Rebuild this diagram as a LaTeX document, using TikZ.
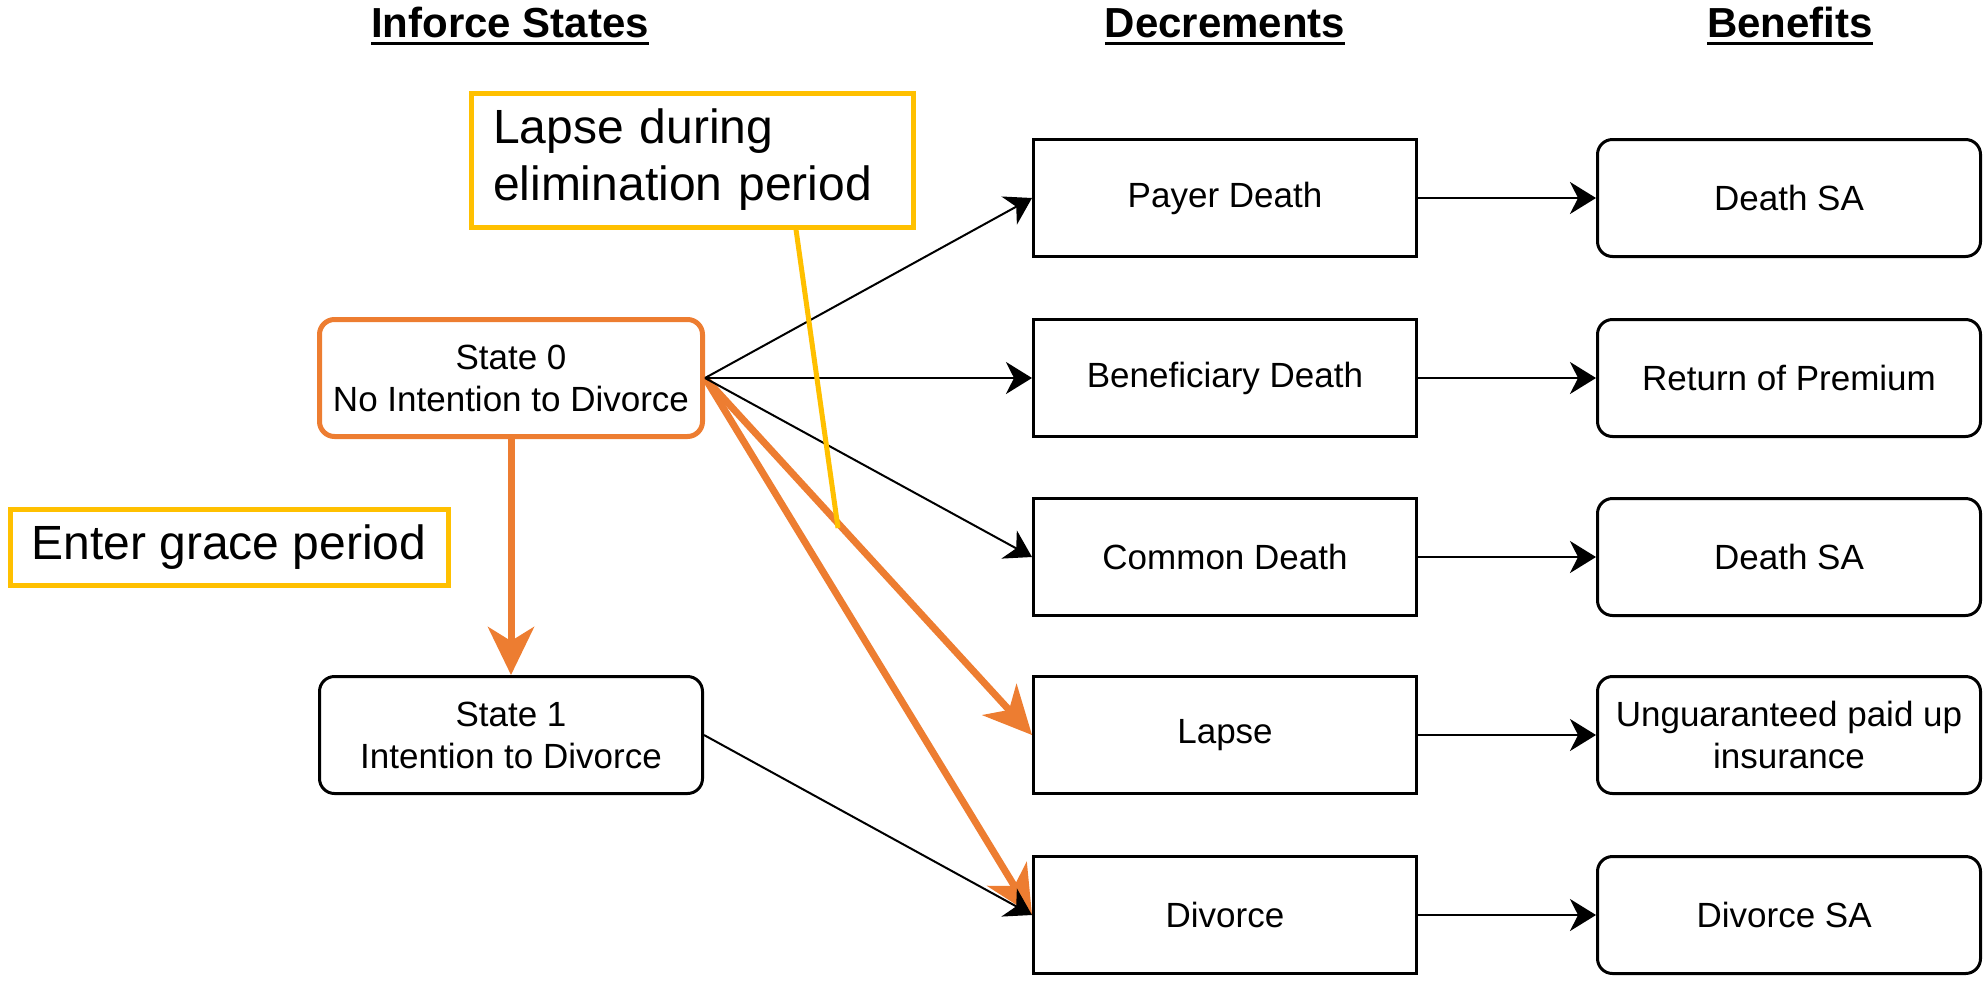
\documentclass[tikz,border=0pt]{standalone}
\usepackage{fontspec}
\setmainfont{Liberation Sans}
\usetikzlibrary{arrows.meta}
\definecolor{stateorange}{HTML}{ED7D31}
\definecolor{noteyellow}{HTML}{FFC000}
\newcommand{\ulhead}[1]{\setbox0\hbox{#1}\rlap{\rule[-4pt]{\wd0}{1.5pt}}\box0}

\begin{document}
\begin{tikzpicture}[x=0.5pt,y=-0.5pt,
  box/.style={draw,line width=1.5pt,minimum width=191.5pt,minimum height=58.5pt,
    inner sep=0pt,align=center,font=\fontsize{17.5}{21}\selectfont},
  rbox/.style={box,rounded corners=7.5pt},
  sbox/.style={rbox,draw=stateorange,line width=2.5pt},
  note/.style={draw=noteyellow,line width=2.5pt,inner sep=0pt,
    font=\fontsize{24}{28.5}\selectfont},
  head/.style={anchor=base,font=\fontsize{21}{25}\selectfont\bfseries},
  arr/.style={-{Stealth[length=13pt,width=16pt,inset=4pt]},line width=1pt},
  oarr/.style={-{Stealth[length=24pt,width=23pt,inset=7pt]},line width=3.5pt,draw=stateorange}
]
\useasboundingbox (0,0) rectangle (1985,980);

% column heads
\node[head] (hstates) at (510,37) {\ulhead{Inforce States}};
\node[head] (hdecr) at (1225,37) {\ulhead{Decrements}};
\node[head] (hbenef) at (1790,37) {\ulhead{Benefits}};

% states
\node[sbox] (s0) at (511,378) {State 0\\No Intention to Divorce};
\node[rbox] (s1) at (511,735) {State 1\\Intention to Divorce};

% decrements and benefits
\foreach \n/\y/\d/\b in{
pay/198/{Payer Death}/{Death SA},
ben/378/{Beneficiary Death}/{Return of Premium},
com/557/{Common Death}/{Death SA},
lap/735/{Lapse}/{Unguaranteed paid up\\insurance},
div/915/{Divorce}/{Divorce SA}
}
{
        \node[box] (\n) at (1225,\y) {\d};
        \node[rbox] (b\n) at (1789,\y) {\b};
        \draw[arr] (\n) -- (b\n);
    }

% notes
\node[note,text width=199pt,inner xsep=11pt,align=left,minimum height=67pt]
  (lapnote) at (692,160) {Lapse during\\elimination period};
\node[note,minimum width=219pt,minimum height=38pt] (gracenote) at (229,547) {Enter grace period};
\coordinate (lappoint) at (838,528);

\draw[oarr] (s0.east) -- (lap.west);
\draw[oarr] (s0.east) -- (div.west);
\draw[oarr] (s0.south) -- (s1.north);
\draw[arr] (s0.east) -- (pay.west);
\draw[arr] (s0.east) -- (ben.west);
\draw[arr] (s0.east) -- (com.west);
\draw[arr] (s1.east) -- (div.west);
\draw[noteyellow,line width=2.5pt] ([xshift=52pt]lapnote.south) -- (lappoint);
\end{tikzpicture}
\end{document}
